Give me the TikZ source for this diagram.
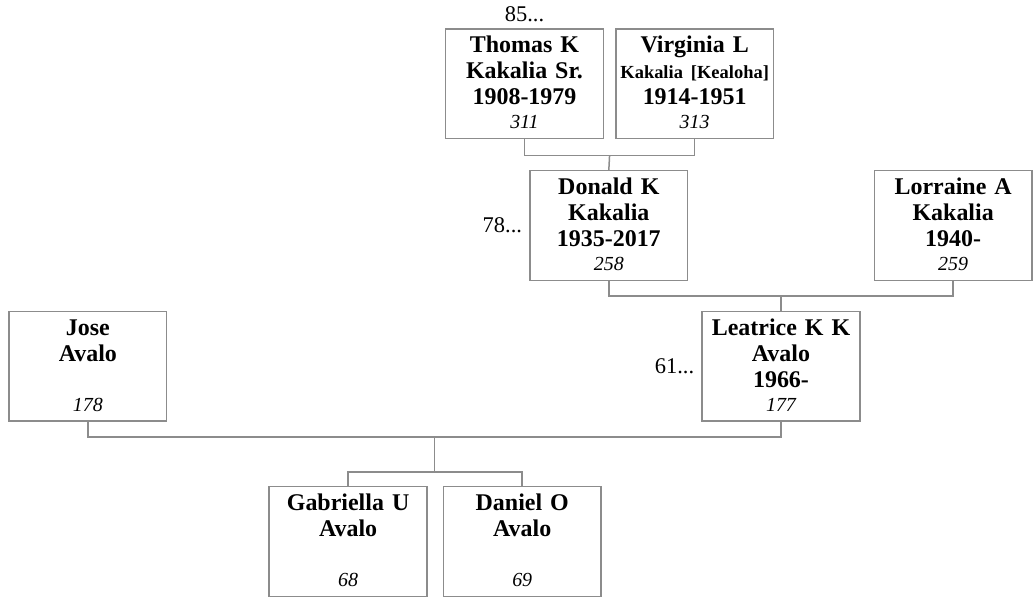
\documentclass[tikz,border=0pt]{standalone}
\usepackage{fontspec}
\setmainfont{Liberation Serif}
\usepackage{tikz}
\usetikzlibrary{positioning,calc}
\definecolor{edge}{RGB}{140,140,140}
\tikzset{
  person/.style={draw=edge, line width=1.5pt, fill=white, align=center,
    minimum width=158pt, minimum height=110pt, text width=150pt,
    inner xsep=4pt, inner ysep=4pt, text height=20pt, text depth=82pt,
    font=\fontsize{24}{26}\bfseries\selectfont},
  more/.style={inner sep=0pt, font=\fontsize{22.5}{27}\selectfont},
  link/.style={draw=edge, line width=1.5pt},
}
\newcommand{\rin}[1]{\\[-2pt]{\fontsize{20}{24}\mdseries\itshape #1}}

\begin{document}
\begin{tikzpicture}[x=1pt, y=-1pt]
  \useasboundingbox (0,0) rectangle (1035,599);

  % grandparents
  \node[person] (thomas) at (525.5,84) {Thomas K\\Kakalia Sr.\\1908-1979\rin{311}};
  \node[person, right=11pt of thomas] (virginia) {Virginia L\\{\fontsize{18.5}{26}\selectfont Kakalia [Kealoha]}\\1914-1951\rin{313}};
  \node[more, above=6pt of thomas] (up85) {85...};

  % parents
  \node[person] (donald) at (610,226) {Donald K\\Kakalia\\1935-2017\rin{258}};
  \node[person] (lorraine) at (955,226) {Lorraine A\\Kakalia\\1940-\rin{259}};
  \node[more, left=7pt of donald] (up78) {78...};

  \node[person] (jose) at (88,367) {Jose\\Avalo\\\strut\rin{178}};
  \node[person] (leatrice) at (782.5,367) {Leatrice K K\\Avalo\\1966-\rin{177}};
  \node[more, left=7pt of leatrice] (up61) {61...};

  % children
  \node[person] (gabriella) at (348.75,542.5) {Gabriella U\\Avalo\\\strut\rin{68}};
  \node[person, right=15pt of gabriella] (daniel) {Daniel O\\Avalo\\\strut\rin{69}};

  \coordinate (tv) at ($(thomas.south)!.5!(virginia.south)+(0,16)$);
  \coordinate (dl) at ($(donald.south)!.5!(lorraine.south)+(0,15)$);
  \coordinate (jl) at ($(jose.south)!.5!(leatrice.south)+(0,15)$);
  \coordinate (kids) at ($(jl)+(0,35)$);

  \draw[link] (thomas.south) |- (tv) -| (virginia.south);
  \draw[link] (tv) -- (donald.north);
  \draw[link] (donald.south) |- (dl) -| (lorraine.south);
  \draw[link] (dl) -- (leatrice.north);
  \draw[link] (jose.south) |- (jl) -| (leatrice.south);
  \draw[link] (jl) -- (kids);
  \draw[link] (gabriella.north) |- (kids) -| (daniel.north);
\end{tikzpicture}
\end{document}
